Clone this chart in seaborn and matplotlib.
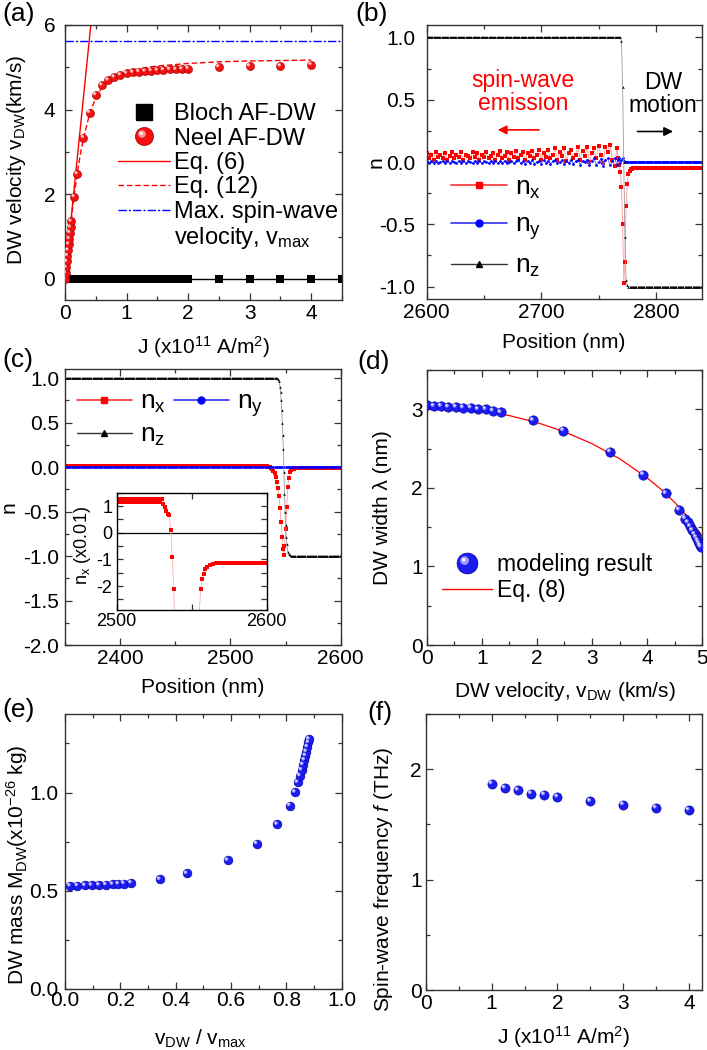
import numpy as np
import matplotlib
matplotlib.use("Agg")
import matplotlib.pyplot as plt
import seaborn as sns
from matplotlib.path import Path
from matplotlib.markers import MarkerStyle
from matplotlib.lines import Line2D
from matplotlib.legend_handler import HandlerTuple
from matplotlib.ticker import MultipleLocator, FixedLocator

sns.set_style("ticks")
plt.rcParams["font.family"] = ["Liberation Sans", "DejaVu Sans"]
plt.rcParams.update({
    "mathtext.fontset": "custom",
    "mathtext.rm": "Liberation Sans",
    "mathtext.it": "Liberation Sans:italic",
    "mathtext.bf": "Liberation Sans:bold",
    "axes.unicode_minus": False,
    "font.size": 15,
    "text.color": "black",
    "axes.labelcolor": "black",
    "axes.edgecolor": "#333333",
    "axes.linewidth": 1.0,
    "xtick.color": "#333333",
    "ytick.color": "#333333",
    "xtick.labelcolor": "black",
    "ytick.labelcolor": "black",
    "xtick.labelsize": 15,
    "ytick.labelsize": 15,
    "axes.labelsize": 15,
})

### (a) DW velocity vs current
neel_J = [0.0, 0.01, 0.02, 0.03, 0.04, 0.05, 0.06, 0.07, 0.08, 0.09, 0.1, 0.15, 0.2,
          0.3, 0.4, 0.5, 0.6, 0.7, 0.8, 0.9, 1.0, 1.1, 1.2, 1.3, 1.4, 1.5, 1.6, 1.7, 1.8,
          1.9, 2.0, 2.5, 3.0, 3.5, 4.0]
neel_v = [0.0, 0.14, 0.27, 0.41, 0.55, 0.68, 0.82, 0.95, 1.09, 1.22, 1.36, 1.94, 2.48,
          3.34, 3.93, 4.35, 4.58, 4.70, 4.77, 4.82, 4.86, 4.88, 4.90, 4.91, 4.92, 4.93,
          4.94, 4.95, 4.95, 4.96, 4.97, 5.01, 5.03, 5.03, 5.06]
bloch_J = list(np.round(np.arange(0, 2.001, 0.02), 2)) + [2.5, 3.0, 3.5, 4.0, 4.5]
bloch_v = [0.0] * len(bloch_J)
eq6_J = [0.0, 0.45]
eq6_v = [0.0, 6.43]
eq12_J = [0.0, 0.05, 0.1, 0.15, 0.2, 0.25, 0.3, 0.4, 0.5, 0.6, 0.7, 0.8, 1.0, 1.25,
          1.5, 2.0, 2.5, 3.0, 3.5, 4.0]
eq12_v = [0.0, 0.7, 1.38, 1.98, 2.5, 2.95, 3.32, 3.9, 4.28, 4.52, 4.67, 4.77, 4.9,
          4.98, 5.03, 5.09, 5.13, 5.15, 5.16, 5.17]
vmax_J = [0.0, 4.5]
vmax_v = [5.62, 5.62]

### (b) snapshot of the moving wall, spin waves behind it
pos_b_z = np.arange(2600, 2841)
nz_b = [1.0] * 170 + [0.97, 0.6, 0.0, -0.6, -0.95, -0.99] + [-1.0] * 65
pos_b_sw = np.arange(2600, 2767, 2)
pos_b_dw = np.arange(2767, 2841)
nx_b_sw = [0.07, 0.03, 0.06, 0.02, 0.08, 0.04, 0.06, 0.03, 0.07, 0.02, 0.05, 0.08, 0.03, 0.06,
           0.04, 0.08, 0.02, 0.06, 0.05, 0.03,
           0.08, 0.04, 0.07, 0.02, 0.06, 0.04, 0.08, 0.03, 0.05, 0.07, 0.02, 0.06, 0.09, 0.03,
           0.05, 0.08, 0.02, 0.07, 0.04, 0.09,
           0.03, 0.06, 0.08, 0.02, 0.07, 0.05, 0.09, 0.03, 0.06, 0.10, 0.02, 0.07, 0.04, 0.10,
           0.03, 0.06, 0.11, 0.02, 0.08, 0.05,
           0.11, 0.01, 0.07, 0.10, 0.03, 0.06, 0.12, 0.02, 0.09, 0.05, 0.12, 0.00, 0.07, 0.11,
           0.03, 0.13, 0.06, -0.01, 0.12, 0.08,
           0.14, 0.02, -0.03, 0.11]
nx_b_dw = [0.03, -0.02, -0.08, -0.2, -0.5, -0.97, -0.8, -0.35, -0.18, -0.1, -0.07, -0.06,
           -0.055] + [-0.05] * 61
ny_b_sw = [0.01, -0.01, 0.005, -0.005, 0.01, -0.01, 0.0, 0.01, -0.005, 0.005, -0.01, 0.01,
           0.0, -0.01, 0.01, -0.005, 0.005, -0.01, 0.01, 0.0,
           -0.01, 0.01, -0.005, 0.01, -0.01, 0.005, 0.0, -0.01, 0.01, -0.005, 0.01, -0.01,
           0.005, -0.005, 0.01, -0.01, 0.0, 0.01, -0.01, 0.005,
           0.015, -0.01, 0.005, -0.015, 0.01, -0.005, 0.015, -0.015, 0.0, 0.01, -0.015, 0.015,
           -0.005, 0.01, -0.015, 0.005, 0.015, -0.01, 0.0, 0.015,
           -0.015, 0.01, -0.005, 0.02, -0.015, 0.005, 0.015, -0.02, 0.01, 0.0,
           0.02, -0.025, 0.01, 0.03, -0.02, 0.0, 0.025, -0.03, 0.015, 0.03, -0.025, 0.005,
           0.03, -0.02]
ny_b_dw = [0.02, 0.03, -0.01, 0.02, 0.03, 0.01, 0.0, 0.0, 0.0, 0.0, 0.0, 0.0, 0.0] + [0.0] * 61

### (c) static wall profile
wall_pos_c = [2543, 2544, 2545, 2545.5, 2546, 2546.5, 2547, 2547.5, 2548, 2548.5, 2549,
              2549.5, 2550, 2550.5, 2551, 2552, 2553, 2554]
nz_c_wall = [0.99, 0.97, 0.9, 0.84, 0.75, 0.64, 0.5, 0.36, 0.2, -0.05, -0.3, -0.5, -0.65,
             -0.78, -0.86, -0.95, -0.98, -0.99]
pos_c_z = np.concatenate([np.arange(2350, 2543), wall_pos_c, np.arange(2555, 2601)])
nz_c = [1.0] * 193 + nz_c_wall + [-1.0] * 46
nx_wall_pos_c = [2531, 2532, 2533, 2534, 2535, 2536, 2537, 2538, 2539, 2540, 2541, 2542,
                 2543, 2544, 2545, 2546, 2547, 2548, 2548.5, 2549, 2550, 2551, 2552, 2553,
                 2554, 2555, 2556, 2557, 2558, 2559, 2560, 2562, 2564, 2566]
nx_c_wall = [0.0106, 0.0095, 0.0080, 0.0069, 0.0066, 0.0012, -0.0090, -0.021, -0.04, -0.07,
             -0.11, -0.17, -0.24, -0.33, -0.46, -0.62, -0.78, -0.92, -0.99, -0.89, -0.70,
             -0.45, -0.22, -0.12, -0.06, -0.03, -0.021, -0.0175, -0.0156, -0.0137, -0.0127,
             -0.0121, -0.0117, -0.0115]
pos_c_x = np.concatenate([np.arange(2350, 2531), nx_wall_pos_c, np.arange(2567, 2601)])
nx_c = [0.0125, 0.0117] * 90 + [0.0125] + nx_c_wall + [-0.0115] * 34
pos_c_y = np.arange(2350, 2601)
ny_c = [0.0] * 251

### (d) DW width vs velocity
d_v = [0.0, 0.13, 0.26, 0.39, 0.53, 0.66, 0.80, 0.93, 1.07, 1.20, 1.34, 1.93, 2.48, 3.33,
       3.93, 4.34, 4.58, 4.69, 4.74, 4.78, 4.82, 4.86, 4.89, 4.92, 4.94, 4.96, 4.97]
d_w = [3.05, 3.04, 3.04, 3.03, 3.03, 3.02, 3.02, 3.00, 3.00, 2.98, 2.96, 2.86, 2.73, 2.46,
       2.17, 1.93, 1.72, 1.61, 1.56, 1.51, 1.46, 1.41, 1.37, 1.33, 1.30, 1.27, 1.25]
eq8_v = [0.0, 0.5, 1.0, 1.5, 2.0, 2.5, 3.0, 3.5, 4.0, 4.25, 4.5, 4.7, 4.85, 5.0]
eq8_w = [3.03, 3.018, 2.982, 2.920, 2.832, 2.714, 2.562, 2.371, 2.128, 1.983, 1.815, 1.661,
         1.531, 1.383]

### (e) DW mass
e_r = [0.018, 0.045, 0.072, 0.096, 0.123, 0.148, 0.172, 0.193, 0.213, 0.239, 0.343, 0.44,
       0.588, 0.693, 0.767, 0.813, 0.831, 0.841, 0.849, 0.855, 0.86, 0.865, 0.869, 0.872,
       0.876, 0.88, 0.882]
e_m = [0.525, 0.526, 0.527, 0.528, 0.529, 0.531, 0.533, 0.535, 0.537, 0.540, 0.558, 0.588,
       0.655, 0.740, 0.838, 0.934, 1.002, 1.052, 1.086, 1.115, 1.142, 1.166, 1.188, 1.209,
       1.233, 1.255, 1.272]

### (f) spin-wave frequency
f_J = [1.0, 1.2, 1.4, 1.6, 1.8, 2.0, 2.5, 3.0, 3.5, 4.0]
f_f = [1.87, 1.83, 1.81, 1.78, 1.77, 1.75, 1.71, 1.68, 1.65, 1.63]


# shiny-sphere look: base disc + off-centre highlights (the lone MOVETO fixes the scale)
HL1 = MarkerStyle(Path.make_compound_path(Path([[1.0, 0.0]], [Path.MOVETO]),
                                          Path.circle((-0.28, 0.28), 0.42)))
HL2 = MarkerStyle(Path.make_compound_path(Path([[1.0, 0.0]], [Path.MOVETO]),
                                          Path.circle((-0.36, 0.36), 0.17)))
RED = ("#f41010", "#a00000", "#ff9a9a")
BLUE = ("#1c1cf0", "#00009a", "#9a9aff")
TUPLE_MAP = {tuple: HandlerTuple(ndivide=1, pad=0)}


def spheres(ax, x, y, col, s):
    base, edge, light = col
    sns.scatterplot(x=x, y=y, ax=ax, s=s, color=base, edgecolor=edge, linewidth=0.4,
                    zorder=3, legend=False)
    sns.scatterplot(x=x, y=y, ax=ax, s=s, marker=HL1, color=light, edgecolor="none",
                    linewidth=0, zorder=4, legend=False)
    sns.scatterplot(x=x, y=y, ax=ax, s=s, marker=HL2, color="white", edgecolor="none",
                    linewidth=0, zorder=5, legend=False)


def sphere_handle(col, ms):
    base, edge, light = col
    return (Line2D([], [], ls="none", marker="o", ms=ms, mfc=base, mec=edge, mew=0.5),
            Line2D([], [], ls="none", marker=HL1, ms=ms, mfc=light, mec="none"),
            Line2D([], [], ls="none", marker=HL2, ms=ms, mfc="white", mec="none"))


def frame(ax, xlim, ylim, xmaj, xmin, ymaj, ymin, xpad=3, ypad=5):
    ax.set_xlim(*xlim)
    ax.set_ylim(*ylim)
    ax.xaxis.set_major_locator(MultipleLocator(xmaj))
    ax.xaxis.set_minor_locator(MultipleLocator(xmin))
    ax.yaxis.set_major_locator(MultipleLocator(ymaj))
    ax.yaxis.set_minor_locator(MultipleLocator(ymin))
    ax.tick_params(which="both", direction="in", top=True, right=True, width=0.9)
    ax.tick_params(which="major", length=5)
    ax.tick_params(which="minor", length=3)
    ax.tick_params(axis="x", pad=xpad)
    ax.tick_params(axis="y", pad=ypad)
    for sp in ax.spines.values():
        sp.set_visible(True)


def nline(ax, x, y, line_c, mark_c, marker, ms, lw=0.6, z=2):
    sns.lineplot(x=x, y=y, ax=ax, color=line_c, lw=lw, marker=marker, ms=ms, mfc=mark_c,
                 mec=mark_c, mew=0, estimator=None, sort=False, zorder=z)


def n_handles():
    return [Line2D([], [], color="#ff3030", lw=1.2, marker="s", ms=5, mfc="red", mec="red"),
            Line2D([], [], color="#3030ff", lw=1.2, marker="o", ms=5, mfc="blue", mec="blue"),
            Line2D([], [], color="#333333", lw=1.0, marker="^", ms=4, mfc="black", mec="black")]


N_LABELS = [r"n$_{\mathrm{x}}$", r"n$_{\mathrm{y}}$", r"n$_{\mathrm{z}}$"]
J_LABEL = r"J (x10$^{\mathrm{11}}$ A/m$^{\mathrm{2}}$)"

fig = plt.figure(figsize=(7.07, 10.5), dpi=100)

# ---------- (a)
ax = fig.add_axes([0.0919, 0.7143, 0.3918, 0.2619])
sns.lineplot(x=bloch_J, y=bloch_v, ax=ax, color="black", lw=1.0, marker="s", ms=6,
             mfc="black", mec="black", mew=0, estimator=None, sort=False, zorder=2)
sns.lineplot(x=eq6_J, y=eq6_v, ax=ax, color="red", lw=1.0, estimator=None, zorder=2)
sns.lineplot(x=eq12_J, y=eq12_v, ax=ax, color="red", lw=1.0, dashes=False, estimator=None,
             zorder=2).lines[-1].set_dashes((4, 2))
sns.lineplot(x=vmax_J, y=vmax_v, ax=ax, color="blue", lw=1.0, estimator=None,
             zorder=2).lines[-1].set_dashes((6, 1.5, 1.5, 1.5))
spheres(ax, neel_J, neel_v, RED, 34)
frame(ax, (0, 4.5), (-0.5, 6), 1, 0.5, 2, 1, xpad=3, ypad=7)
ax.set_xlabel(J_LABEL)
ax.set_ylabel(r"DW velocity v$_{\mathrm{DW}}$(km/s)")
ax.xaxis.set_label_coords(0.5, -0.125)
ax.yaxis.set_label_coords(-0.135, 0.51)
h_a = [Line2D([], [], ls="none", marker="s", ms=11, mfc="black", mec="black"),
       sphere_handle(RED, 13),
       Line2D([], [], color="red", lw=1.0),
       Line2D([], [], color="red", lw=1.0, dashes=(4, 2)),
       Line2D([], [], color="blue", lw=1.0, dashes=(6, 1.5, 1.5, 1.5)),
       Line2D([], [], ls="none")]
l_a = ["Bloch AF-DW", "Neel AF-DW", "Eq. (6)", "Eq. (12)", "Max. spin-wave",
       r"velocity, v$_{\mathrm{max}}$"]
ax.legend(h_a, l_a, loc="upper left", bbox_to_anchor=(0.19, 0.715), frameon=False,
          fontsize=17, handlelength=2.2, handletextpad=0.2, labelspacing=0.1,
          borderpad=0, borderaxespad=0, handler_map=TUPLE_MAP)

# ---------- (b)
ax = fig.add_axes([0.6035, 0.7152, 0.389, 0.261])
pos_b_x = np.concatenate([pos_b_sw, pos_b_dw])
nline(ax, pos_b_x, nx_b_sw + nx_b_dw, "#ff9a9a", "red", "s", 2.7)
nline(ax, pos_b_x, ny_b_sw + ny_b_dw, "#5a5aff", "blue", "o", 2.0)
nline(ax, pos_b_z, nz_b, "#9a9a9a", "black", "^", 1.8)
frame(ax, (2600, 2840), (-1.1, 1.1), 100, 50, 0.5, 0.25, xpad=3, ypad=8)
ax.set_xlabel("Position (nm)")
ax.set_ylabel("n")
ax.xaxis.set_label_coords(0.5, -0.124)
ax.yaxis.set_label_coords(-0.15, 0.5)
ax.text(2684, 0.565, "spin-wave\nemission", color="red", fontsize=16.5, ha="center",
        va="center", linespacing=1.0)
ax.text(2806, 0.55, "DW\nmotion", color="black", fontsize=16.5, ha="center", va="center",
        linespacing=1.0)
ax.annotate("", xy=(2662, 0.258), xytext=(2698, 0.258),
            arrowprops=dict(arrowstyle="-|>", color="red", lw=1.2, mutation_scale=13,
                            shrinkA=0, shrinkB=0))
ax.annotate("", xy=(2815, 0.245), xytext=(2784, 0.245),
            arrowprops=dict(arrowstyle="-|>", color="black", lw=1.2, mutation_scale=13,
                            shrinkA=0, shrinkB=0))
ax.legend(n_handles(), N_LABELS, loc="upper left", bbox_to_anchor=(0.09, 0.45),
          frameon=False, fontsize=19, handlelength=2.1, handletextpad=0.3,
          labelspacing=0.45, borderpad=0, borderaxespad=0)

# ---------- (c)
ax = fig.add_axes([0.0919, 0.3857, 0.39, 0.2626])
nline(ax, pos_c_x, nx_c, "#ff9a9a", "red", "s", 2.2)
nline(ax, pos_c_y, ny_c, "#3a3aff", "blue", "o", 1.8, lw=1.0)
nline(ax, pos_c_z, nz_c, "#9a9a9a", "black", "^", 1.8)
frame(ax, (2350, 2600), (-2.0, 1.1), 100, 50, 0.5, 0.25, xpad=3, ypad=4)
ax.set_xlabel("Position (nm)")
ax.set_ylabel("n")
ax.xaxis.set_label_coords(0.5, -0.12)
ax.yaxis.set_label_coords(-0.17, 0.5)
hc = n_handles()
ax.legend([hc[0], hc[2], hc[1]], [N_LABELS[0], N_LABELS[2], N_LABELS[1]], ncol=2,
          loc="upper left", bbox_to_anchor=(0.042, 0.925), frameon=False, fontsize=19,
          handlelength=2.1, handletextpad=0.3, labelspacing=0.3, columnspacing=0.3,
          borderpad=0, borderaxespad=0)

# inset: n_x tails, scaled by 100
axi = fig.add_axes([0.1651, 0.419, 0.2122, 0.1117])
axi.axhline(0, color="black", lw=0.9, zorder=1)
nline(axi, pos_c_x, [v * 100 for v in nx_c], "#ffb0b0", "red", "s", 2.6)
axi.set_xlim(2500, 2600)
axi.set_ylim(-2.9, 1.5)
axi.xaxis.set_major_locator(FixedLocator([2500, 2600]))
axi.xaxis.set_minor_locator(FixedLocator([2550]))
axi.yaxis.set_major_locator(MultipleLocator(1))
axi.yaxis.set_minor_locator(MultipleLocator(0.5))
axi.tick_params(which="both", direction="in", top=True, right=True, labelsize=13, width=0.9)
axi.tick_params(which="major", length=4)
axi.tick_params(which="minor", length=4)
axi.tick_params(axis="x", pad=2)
axi.tick_params(axis="y", pad=3)
for sp in axi.spines.values():
    sp.set_visible(True)
    sp.set_color("black")
axi.set_ylabel(r"n$_{\mathrm{x}}$ (x0.01)", fontsize=13)
axi.yaxis.set_label_coords(-0.16, 0.55)

# ---------- (d)
ax = fig.add_axes([0.6035, 0.3857, 0.3898, 0.2619])
sns.lineplot(x=eq8_v, y=eq8_w, ax=ax, color="red", lw=0.9, estimator=None, zorder=2)
spheres(ax, d_v, d_w, BLUE, 46)
frame(ax, (0, 5), (0, 3.5), 1, 0.5, 1, 0.5, xpad=3, ypad=3)
ax.set_xlabel(r"DW velocity, v$_{\mathrm{DW}}$ (km/s)")
ax.set_ylabel("DW width λ (nm)")
ax.xaxis.set_label_coords(0.5, -0.127)
ax.yaxis.set_label_coords(-0.126, 0.5)
ax.legend([sphere_handle(BLUE, 15), Line2D([], [], color="red", lw=1.0)],
          ["modeling result", "Eq. (8)"], loc="upper left", bbox_to_anchor=(0.054, 0.335),
          frameon=False, fontsize=16.5, handlelength=2.2, handletextpad=0.22,
          labelspacing=0.15, borderpad=0, borderaxespad=0, handler_map=TUPLE_MAP)

# ---------- (e)
ax = fig.add_axes([0.0919, 0.0581, 0.3914, 0.2619])
spheres(ax, e_r, e_m, BLUE, 40)
frame(ax, (0, 1.0), (0, 1.4), 0.2, 0.1, 0.5, 0.25, xpad=1.5, ypad=5)
ax.set_xlabel(r"v$_{\mathrm{DW}}$ / v$_{\mathrm{max}}$")
ax.set_ylabel(r"DW mass M$_{\mathrm{DW}}$(x10$^{\mathrm{-26}}$ kg)")
ax.xaxis.set_label_coords(0.49, -0.14)
ax.yaxis.set_label_coords(-0.126, 0.45)

# ---------- (f)
ax = fig.add_axes([0.6025, 0.0571, 0.3904, 0.2629])
spheres(ax, f_J, f_f, BLUE, 44)
frame(ax, (0, 4.2), (0, 2.5), 1, 0.5, 1, 0.5, xpad=3, ypad=3)
ax.set_xlabel(J_LABEL)
ax.set_ylabel(r"Spin-wave frequency $\mathit{f}$ (THz)")
ax.xaxis.set_label_coords(0.5, -0.125)
ax.yaxis.set_label_coords(-0.112, 0.4)

# panel letters
for x, y, s in [(0.003, 0.998, "(a)"), (0.502, 0.998, "(b)"), (0.003, 0.669, "(c)"),
                (0.506, 0.667, "(d)"), (0.004, 0.335, "(e)"), (0.52, 0.332, "(f)")]:
    fig.text(x, y, s, fontsize=19, ha="left", va="top")

fig.savefig("out.png", dpi=100)
